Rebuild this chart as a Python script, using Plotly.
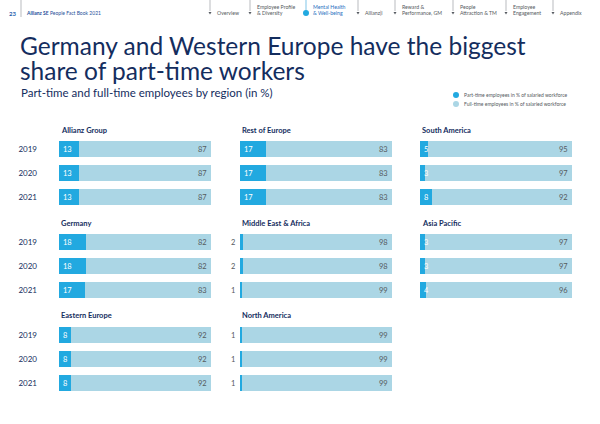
import plotly.graph_objects as go

years = ["2019", "2020", "2021"]
regions = ["Allianz Group", "Rest of Europe", "South America",
           "Germany", "Middle East & Africa", "Asia Pacific",
           "Eastern Europe", "North America"]
part_time = {
    "Allianz Group": [13, 13, 13],
    "Rest of Europe": [17, 17, 17],
    "South America": [5, 3, 8],
    "Germany": [18, 18, 17],
    "Middle East & Africa": [2, 2, 1],
    "Asia Pacific": [3, 3, 4],
    "Eastern Europe": [8, 8, 8],
    "North America": [1, 1, 1],
}
full_time = {
    "Allianz Group": [87, 87, 87],
    "Rest of Europe": [83, 83, 83],
    "South America": [95, 97, 92],
    "Germany": [82, 82, 83],
    "Middle East & Africa": [98, 98, 99],
    "Asia Pacific": [97, 97, 96],
    "Eastern Europe": [92, 92, 92],
    "North America": [99, 99, 99],
}
nav_items = [("Overview", ""), ("Employee Profile", "& Diversity"),
             ("Mental Health", "& Well-being"), ("Allianz|i", ""),
             ("Reward &", "Performance, GM"), ("People", "Attraction & TM"),
             ("Employee", "Engagement"), ("Appendix", "")]

W, H = 600, 424
PT = "#22a9e0"
FT = "#abd6e5"
NAVY = "#142d5e"
GRAY = "#555a60"
FONT = "Lato"

def px(x):
    return x / W

def py(y):
    return 1 - y / H

col_x = [(59, 211), (240, 392), (420, 572)]
row_y = [(137, 209), (230, 302), (323, 395)]
title_y = [130, 223, 315]

fig = go.Figure()
annotations = []
shapes = []

for i, reg in enumerate(regions):
    r, c = divmod(i, 3)
    n = i + 1
    xa = "x" if n == 1 else f"x{n}"
    ya = "y" if n == 1 else f"y{n}"
    fig.add_trace(go.Bar(y=years, x=part_time[reg], orientation="h",
                         marker=dict(color=PT, line=dict(width=0)),
                         xaxis=xa, yaxis=ya, showlegend=False, hoverinfo="skip"))
    fig.add_trace(go.Bar(y=years, x=full_time[reg], orientation="h",
                         marker=dict(color=FT, line=dict(width=0)),
                         xaxis=xa, yaxis=ya, showlegend=False, hoverinfo="skip"))
    x0, x1 = col_x[c]
    y0, y1 = row_y[r]
    fig.layout[("xaxis" if n == 1 else f"xaxis{n}")] = dict(
        domain=[px(x0), px(x1)], range=[0, 100], visible=False,
        anchor=ya, fixedrange=True)
    fig.layout[("yaxis" if n == 1 else f"yaxis{n}")] = dict(
        domain=[py(y1), py(y0)], anchor=xa, type="category",
        categoryorder="array", categoryarray=years, range=[2.5, -0.5],
        showgrid=False, zeroline=False, showline=False,
        ticks="", showticklabels=(c == 0), ticklabelstandoff=21,
        tickfont=dict(family=FONT, size=8, color=NAVY), fixedrange=True)
    annotations.append(dict(xref=f"{xa} domain", yref="paper", x=0, y=py(title_y[r]),
                            xanchor="left", yanchor="middle", showarrow=False,
                            text=f"<b>{reg}</b>",
                            font=dict(family=FONT, size=7.5, color=NAVY)))
    for j, (pv, fv) in enumerate(zip(part_time[reg], full_time[reg])):
        # j is the category index of years[j] on this category axis
        if pv <= 2:
            annotations.append(dict(xref=xa, yref=ya, x=0, y=j, xanchor="right",
                                    xshift=-3, showarrow=False, text=str(pv),
                                    font=dict(family=FONT, size=7.5, color=GRAY)))
        else:
            annotations.append(dict(xref=xa, yref=ya, x=0, y=j, xanchor="left",
                                    xshift=1.5, showarrow=False, text=str(pv),
                                    font=dict(family=FONT, size=7.5, color="white")))
        annotations.append(dict(xref=xa, yref=ya, x=100, y=j, xanchor="right",
                                xshift=-2, showarrow=False, text=str(fv),
                                font=dict(family=FONT, size=7.5, color=GRAY)))

# Title and subtitle
annotations.append(dict(xref="paper", yref="paper", x=px(18), y=py(45.5), xanchor="left",
                        yanchor="middle", showarrow=False,
                        text="Germany and Western Europe have the biggest",
                        font=dict(family=FONT, size=24.5, color=NAVY)))
annotations.append(dict(xref="paper", yref="paper", x=px(18), y=py(70), xanchor="left",
                        yanchor="middle", showarrow=False,
                        text="share of part-time workers",
                        font=dict(family=FONT, size=24.5, color=NAVY)))
annotations.append(dict(xref="paper", yref="paper", x=px(19), y=py(93), xanchor="left",
                        yanchor="middle", showarrow=False,
                        text="Part-time and full-time employees by region (in %)",
                        font=dict(family=FONT, size=11.5, color=NAVY)))

# Legend
for ly, col, txt in [(95, PT, "Part-time employees in % of salaried workforce"),
                     (104, FT, "Full-time employees in % of salaried workforce")]:
    shapes.append(dict(type="circle", xref="paper", yref="paper",
                       x0=px(453), x1=px(459), y0=py(ly + 3), y1=py(ly - 3),
                       fillcolor=col, line=dict(width=0)))
    annotations.append(dict(xref="paper", yref="paper", x=px(462), y=py(ly),
                            xanchor="left", yanchor="middle", showarrow=False, text=txt,
                            font=dict(family=FONT, size=5, color=GRAY)))

# Header
annotations.append(dict(xref="paper", yref="paper", x=px(7), y=py(13), xanchor="left",
                        yanchor="middle", showarrow=False, text="<b>23</b>",
                        font=dict(family=FONT, size=6, color="#1f5fae")))
annotations.append(dict(xref="paper", yref="paper", x=px(24), y=py(13), xanchor="left",
                        yanchor="middle", showarrow=False,
                        text="<b>Allianz SE</b> People Fact Book 2021",
                        font=dict(family=FONT, size=5, color="#1f4f9a")))
shapes.append(dict(type="line", xref="paper", yref="paper", x0=px(21), x1=px(21),
                   y0=py(0), y1=py(17), line=dict(color="#8a8f96", width=0.6)))
nav_x = [210, 250, 306, 358, 395, 453, 506, 553]
for (l1, l2), lx in zip(nav_items, nav_x):
    blue = l1 == "Mental Health"
    tcol = "#1f6fc0" if blue else "#555a60"
    shapes.append(dict(type="line", xref="paper", yref="paper", x0=px(lx), x1=px(lx),
                       y0=py(0), y1=py(11), line=dict(color="#2a9fd8" if blue else "#8a8f96",
                                                        width=0.6)))
    if blue:
        shapes.append(dict(type="circle", xref="paper", yref="paper",
                           x0=px(lx - 3), x1=px(lx + 3), y0=py(16), y1=py(10),
                           fillcolor="#22a9e0", line=dict(width=0)))
    else:
        shapes.append(dict(type="path", xref="paper", yref="paper",
                           path=f"M {px(lx-1.5)} {py(12)} L {px(lx+1.5)} {py(12)} L {px(lx)} {py(14.5)} Z",
                           fillcolor="#555a60", line=dict(width=0)))
    tx = lx + 5
    if l2:
        annotations.append(dict(xref="paper", yref="paper", x=px(tx), y=py(6.5),
                                xanchor="left", yanchor="middle", showarrow=False, text=l1,
                                font=dict(family=FONT, size=5.2, color=tcol)))
        annotations.append(dict(xref="paper", yref="paper", x=px(tx), y=py(13),
                                xanchor="left", yanchor="middle", showarrow=False, text=l2,
                                font=dict(family=FONT, size=5.2, color=tcol)))
    else:
        annotations.append(dict(xref="paper", yref="paper", x=px(tx), y=py(13),
                                xanchor="left", yanchor="middle", showarrow=False, text=l1,
                                font=dict(family=FONT, size=5.2, color=tcol)))

fig.update_layout(width=W, height=H, margin=dict(l=0, r=0, t=0, b=0),
                  paper_bgcolor="white", plot_bgcolor="white",
                  barmode="stack", bargap=0.33, showlegend=False,
                  annotations=annotations, shapes=shapes,
                  font=dict(family=FONT))

fig.write_html("out.html", config={"displayModeBar": False})
